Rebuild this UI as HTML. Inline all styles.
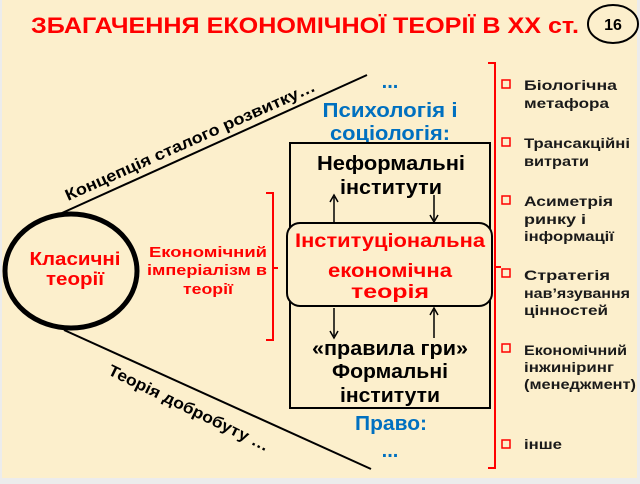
<!DOCTYPE html>
<html><head><meta charset="utf-8"><style>
html,body{margin:0;padding:0;background:#ececec;}
svg{display:block;}
text{font-family:"Liberation Sans",Arial,sans-serif;font-weight:bold;}
</style></head><body>
<svg width="640" height="484" viewBox="0 0 640 484" xmlns="http://www.w3.org/2000/svg" font-weight="bold">
<rect x="0" y="0" width="640" height="484" fill="#ececec"/>
<rect x="2" y="0" width="635" height="478" fill="#fcefcc"/>
<text x="31" y="33" font-size="22" fill="#ff0000" textLength="548" lengthAdjust="spacingAndGlyphs">ЗБАГАЧЕННЯ ЕКОНОМІЧНОЇ ТЕОРІЇ В ХХ ст.</text>
<ellipse cx="613" cy="24" rx="25" ry="19" fill="none" stroke="#000" stroke-width="2"/>
<text x="613" y="30" font-size="16" text-anchor="middle" fill="#000">16</text>
<ellipse cx="71" cy="271" rx="66" ry="57" fill="none" stroke="#000" stroke-width="5"/>
<text x="75" y="265" font-size="18" text-anchor="middle" fill="#ff0000" textLength="91" lengthAdjust="spacingAndGlyphs">Класичні</text>
<text x="75" y="285" font-size="18" text-anchor="middle" fill="#ff0000" textLength="58" lengthAdjust="spacingAndGlyphs">теорії</text>
<line x1="62" y1="213" x2="367" y2="75" stroke="#000" stroke-width="2"/>
<line x1="64" y1="330" x2="371" y2="469" stroke="#000" stroke-width="2"/>
<text x="68" y="201" font-size="16" fill="#000" textLength="272" lengthAdjust="spacingAndGlyphs" transform="rotate(-24 68 201)">Концепція сталого розвитку…</text>
<text x="107" y="374" font-size="16" fill="#000" textLength="177" lengthAdjust="spacingAndGlyphs" transform="rotate(26 107 374)">Теорія добробуту …</text>
<text x="208" y="257" font-size="15" text-anchor="middle" fill="#ff0000" textLength="118" lengthAdjust="spacingAndGlyphs">Економічний</text>
<text x="207" y="275" font-size="15" text-anchor="middle" fill="#ff0000" textLength="120" lengthAdjust="spacingAndGlyphs">імперіалізм в</text>
<text x="208" y="294" font-size="15" text-anchor="middle" fill="#ff0000" textLength="50" lengthAdjust="spacingAndGlyphs">теорії</text>
<path d="M266 193 H273 V340 H266 M273 268 H278" fill="none" stroke="#ff0000" stroke-width="2"/>
<text x="390" y="88" font-size="20" text-anchor="middle" fill="#0070c0">...</text>
<text x="390" y="117" font-size="20" text-anchor="middle" fill="#0070c0" textLength="135" lengthAdjust="spacingAndGlyphs">Психологія і</text>
<text x="390" y="140" font-size="20" text-anchor="middle" fill="#0070c0" textLength="120" lengthAdjust="spacingAndGlyphs">соціологія:</text>
<rect x="290" y="143" width="200" height="265" fill="none" stroke="#000" stroke-width="2"/>
<text x="391" y="170" font-size="20" text-anchor="middle" fill="#000" textLength="148" lengthAdjust="spacingAndGlyphs">Неформальні</text>
<text x="391" y="194" font-size="20" text-anchor="middle" fill="#000" textLength="102" lengthAdjust="spacingAndGlyphs">інститути</text>
<rect x="287" y="223" width="205" height="83" rx="13" fill="#fcefcc" stroke="#000" stroke-width="2"/>
<text x="390" y="247" font-size="19" text-anchor="middle" fill="#ff0000" textLength="190" lengthAdjust="spacingAndGlyphs">Інституціональна</text>
<text x="390" y="277" font-size="19" text-anchor="middle" fill="#ff0000" textLength="124" lengthAdjust="spacingAndGlyphs">економічна</text>
<text x="390" y="298" font-size="19" text-anchor="middle" fill="#ff0000" textLength="78" lengthAdjust="spacingAndGlyphs">теорія</text>
<g stroke="#000" stroke-width="1.5" fill="none">
<line x1="334" y1="222" x2="334" y2="197"/><path d="M330 202 L334 195 L338 202"/>
<line x1="434" y1="195" x2="434" y2="220"/><path d="M430 215 L434 222 L438 215"/>
<line x1="334" y1="308" x2="334" y2="336"/><path d="M330 331 L334 338 L338 331"/>
<line x1="434" y1="338" x2="434" y2="310"/><path d="M430 315 L434 308 L438 315"/>
</g>
<text x="390" y="355" font-size="20" text-anchor="middle" fill="#000" textLength="156" lengthAdjust="spacingAndGlyphs">«правила гри»</text>
<text x="390" y="378" font-size="20" text-anchor="middle" fill="#000" textLength="116" lengthAdjust="spacingAndGlyphs">Формальні</text>
<text x="390" y="402" font-size="20" text-anchor="middle" fill="#000" textLength="100" lengthAdjust="spacingAndGlyphs">інститути</text>
<text x="391" y="430" font-size="20" text-anchor="middle" fill="#0070c0" textLength="72" lengthAdjust="spacingAndGlyphs">Право:</text>
<text x="390" y="457" font-size="20" text-anchor="middle" fill="#0070c0">...</text>
<path d="M488 63 H495 V468 H488 M495 267 H501" fill="none" stroke="#ff0000" stroke-width="2"/>
<g fill="none" stroke="#ff0000" stroke-width="1.5">
<rect x="502" y="80" width="8" height="8"/>
<rect x="502" y="138" width="8" height="8"/>
<rect x="502" y="196" width="8" height="8"/>
<rect x="502" y="269" width="8" height="8"/>
<rect x="502" y="344" width="8" height="8"/>
<rect x="502" y="440" width="8" height="8"/>
</g>
<g font-size="14" fill="#1a1a1a">
<text x="524" y="90" textLength="93" lengthAdjust="spacingAndGlyphs">Біологічна</text>
<text x="524" y="108" textLength="85" lengthAdjust="spacingAndGlyphs">метафора</text>
<text x="524" y="148" textLength="106" lengthAdjust="spacingAndGlyphs">Трансакційні</text>
<text x="524" y="166" textLength="65" lengthAdjust="spacingAndGlyphs">витрати</text>
<text x="524" y="206" textLength="89" lengthAdjust="spacingAndGlyphs">Асиметрія</text>
<text x="524" y="224" textLength="62" lengthAdjust="spacingAndGlyphs">ринку і</text>
<text x="524" y="241" textLength="90" lengthAdjust="spacingAndGlyphs">інформації</text>
<text x="524" y="280" textLength="86" lengthAdjust="spacingAndGlyphs">Стратегія</text>
<text x="524" y="298" textLength="106" lengthAdjust="spacingAndGlyphs">нав’язування</text>
<text x="524" y="315" textLength="84" lengthAdjust="spacingAndGlyphs">цінностей</text>
<text x="524" y="355" textLength="103" lengthAdjust="spacingAndGlyphs">Економічний</text>
<text x="524" y="372" textLength="90" lengthAdjust="spacingAndGlyphs">інжиніринг</text>
<text x="524" y="389" textLength="112" lengthAdjust="spacingAndGlyphs">(менеджмент)</text>
<text x="524" y="449" textLength="38" lengthAdjust="spacingAndGlyphs">інше</text>
</g>
</svg>
</body></html>
